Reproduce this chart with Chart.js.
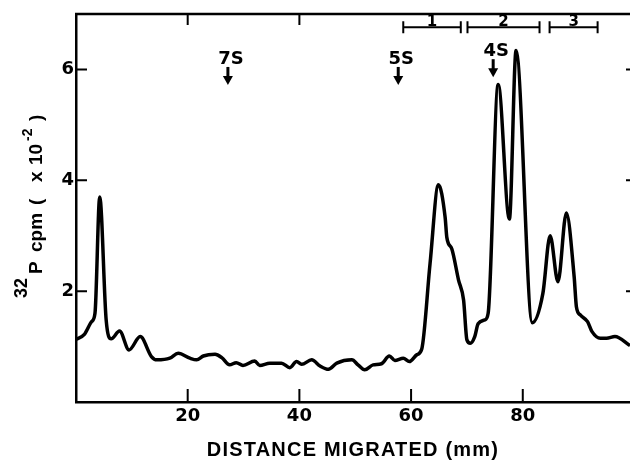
<!DOCTYPE html>
<html>
<head>
<meta charset="utf-8">
<script src="https://cdn.jsdelivr.net/npm/chart.js@4"></script>
<style>
  body { margin: 0; background: #fff; }
</style>
</head>
<body>
<canvas id="myChart" width="630" height="461"></canvas>
<script>
// distance migrated (mm) and 32P counts (cpm x 10^-2)
const distanceMm = [0, 1.5, 2.8, 3.4, 4.25, 5.4, 6.3, 7.8, 9.5, 11.5, 13.5, 14.5, 16.8, 18.3,
  20.4, 21.6, 22.8, 24.9, 26.1, 27.5, 28.7, 29.9, 32.0, 32.9, 34.7, 36.8, 38.3, 39.5,
  40.4, 42.2, 43.7, 45.2, 46.7, 49.4, 50.5, 51.7, 53.2, 54.7, 56.1, 57.1, 58.6, 59.7,
  61.0, 61.9, 63.4, 64.9, 66.1, 66.4, 67.3, 68.5, 69.4, 70.0, 70.6, 71.4, 72.0, 73.2,
  73.8, 75.6, 77.6, 78.8, 81.7, 83.6, 84.9, 86.3, 87.8, 89.2, 89.6, 90.3, 91.6, 92.4,
  93.9, 95.0, 96.5, 99.2];
const cpm = [1.13, 1.22, 1.45, 1.6, 3.7, 1.48, 1.14, 1.28, 0.94, 1.18, 0.82, 0.76, 0.79, 0.88,
  0.79, 0.76, 0.83, 0.86, 0.80, 0.67, 0.71, 0.66, 0.74, 0.66, 0.70, 0.70, 0.62, 0.73,
  0.68, 0.76, 0.65, 0.59, 0.70, 0.76, 0.67, 0.58, 0.67, 0.69, 0.83, 0.75, 0.79, 0.73,
  0.85, 0.95, 2.5, 3.92, 3.33, 2.97, 2.76, 2.2, 1.84, 1.12, 1.06, 1.18, 1.41, 1.48,
  1.6, 5.73, 3.3, 6.34, 1.43, 1.96, 3.0, 2.17, 3.41, 2.26, 1.72, 1.57, 1.45, 1.27,
  1.15, 1.15, 1.18, 1.02];

const xTickValues = [20, 40, 60, 80];
const yTickValues = [2, 4, 6];
const topTickValues = [20, 40];

// sedimentation markers
const markerLabels = ["7S", "5S", "4S"];
const markerMm = [27.2, 57.7, 74.7];
const markerTip = [5.72, 5.72, 5.86];

// pooled fractions
const fractionLabels = ["1", "2", "3"];
const fractionStart = [58.6, 70.1, 84.8];
const fractionEnd = [68.9, 83.0, 93.4];
const fractionLevel = 6.76;

const xTitle = "DISTANCE MIGRATED (mm)";
const fontFamily = "'DejaVu Sans', sans-serif";
const titleFamily = "'Liberation Sans', sans-serif";

const decorations = {
  id: "decorations",
  afterDraw(chart) {
    const { ctx, chartArea: a, scales: { x, y } } = chart;
    ctx.save();
    ctx.strokeStyle = "#000";
    ctx.fillStyle = "#000";

    // top frame
    ctx.lineWidth = 2.5;
    ctx.beginPath();
    ctx.moveTo(a.left - 1, a.top);
    ctx.lineTo(a.right, a.top);
    ctx.stroke();

    // inward tick marks
    ctx.lineWidth = 2;
    ctx.beginPath();
    xTickValues.forEach((v) => {
      const px = x.getPixelForValue(v);
      ctx.moveTo(px, a.bottom);
      ctx.lineTo(px, a.bottom - 13);
    });
    topTickValues.forEach((v) => {
      const px = x.getPixelForValue(v);
      ctx.moveTo(px, a.top);
      ctx.lineTo(px, a.top + 11);
    });
    yTickValues.forEach((v) => {
      const py = y.getPixelForValue(v);
      ctx.moveTo(a.left, py);
      ctx.lineTo(a.left + 11, py);
      ctx.moveTo(a.right, py);
      ctx.lineTo(a.right - 4, py);
    });
    ctx.stroke();

    // marker arrows
    ctx.font = "bold 18px " + fontFamily;
    ctx.textAlign = "center";
    ctx.textBaseline = "alphabetic";
    markerLabels.forEach((label, i) => {
      const px = x.getPixelForValue(markerMm[i]);
      const tip = y.getPixelForValue(markerTip[i]);
      const top = tip - 18;
      ctx.fillText(label, px + 3, top - 3);
      ctx.lineWidth = 3;
      ctx.beginPath();
      ctx.moveTo(px, top);
      ctx.lineTo(px, tip - 6);
      ctx.stroke();
      ctx.beginPath();
      ctx.moveTo(px - 5, tip - 9);
      ctx.lineTo(px + 5, tip - 9);
      ctx.lineTo(px, tip);
      ctx.closePath();
      ctx.fill();
    });

    // fraction brackets
    ctx.font = "bold 15px " + fontFamily;
    ctx.lineWidth = 2;
    const by = y.getPixelForValue(fractionLevel);
    fractionLabels.forEach((label, i) => {
      const x1 = x.getPixelForValue(fractionStart[i]);
      const x2 = x.getPixelForValue(fractionEnd[i]);
      ctx.beginPath();
      ctx.moveTo(x1, by);
      ctx.lineTo(x2, by);
      ctx.moveTo(x1, by - 6);
      ctx.lineTo(x1, by + 6);
      ctx.moveTo(x2, by - 6);
      ctx.lineTo(x2, by + 6);
      ctx.stroke();
      ctx.fillText(label, (x1 + x2) / 2, by - 1);
    });

    // x title
    ctx.font = "bold 20px " + titleFamily;
    ctx.letterSpacing = "1.2px";
    ctx.textBaseline = "middle";
    ctx.fillText(xTitle, (a.left + a.right) / 2, 450);

    // y title with superscripts, drawn bottom to top
    ctx.translate(42, 298);
    ctx.rotate(-Math.PI / 2);
    ctx.textAlign = "left";
    ctx.textBaseline = "alphabetic";
    ctx.letterSpacing = "0px";
    const pieces = [
      ["32", 0, 18, -15],
      ["P", 24, 19, 0],
      ["cpm", 46, 19, 0],
      ["(", 93, 19, 0],
      ["x", 116, 19, 0],
      ["10", 133, 19, 0],
      ["-2", 157, 14, -10],
      [")", 177, 19, 0],
    ];
    pieces.forEach(([t, off, size, raise]) => {
      ctx.font = "bold " + size + "px " + titleFamily;
      ctx.fillText(t, off, raise);
    });
    ctx.restore();
  },
};

new Chart(document.getElementById("myChart"), {
  type: "line",
  data: {
    datasets: [
      {
        data: distanceMm.map((d, i) => ({ x: d, y: cpm[i] })),
        borderColor: "#000",
        borderWidth: 3.5,
        pointRadius: 0,
        cubicInterpolationMode: "monotone",
        fill: false,
      },
    ],
  },
  options: {
    responsive: false,
    animation: false,
    layout: { padding: { top: 14, left: 0, right: 0, bottom: 0 } },
    plugins: { legend: { display: false }, tooltip: { enabled: false } },
    scales: {
      x: {
        type: "linear",
        min: 0,
        max: 99.2,
        afterFit: (s) => { s.height = 59; },
        afterBuildTicks: (s) => { s.ticks = xTickValues.map((v) => ({ value: v })); },
        grid: { display: false, drawTicks: false },
        border: { display: true, color: "#000", width: 2.5 },
        ticks: {
          color: "#000",
          padding: 4,
          maxRotation: 0,
          autoSkip: false,
          font: { family: fontFamily, size: 18, weight: "bold" },
        },
      },
      y: {
        min: 0,
        max: 7,
        afterFit: (s) => { s.width = 76; },
        afterBuildTicks: (s) => { s.ticks = yTickValues.map((v) => ({ value: v })); },
        grid: { display: false, drawTicks: false },
        border: { display: true, color: "#000", width: 2.5 },
        ticks: {
          color: "#000",
          padding: 2,
          font: { family: fontFamily, size: 18, weight: "bold" },
        },
      },
    },
  },
  plugins: [decorations],
});
</script>
</body>
</html>
